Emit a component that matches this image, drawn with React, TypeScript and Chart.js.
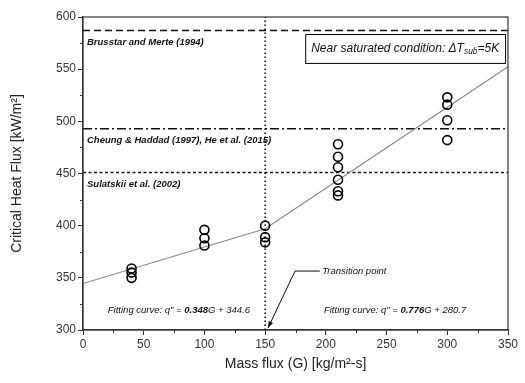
import React, { useEffect, useRef } from 'react';
import { Chart, registerables } from 'chart.js';
Chart.register(...registerables);

// ---- data ----
const massFlux = [40, 40, 40, 100, 100, 100, 150, 150, 150, 210, 210, 210, 210, 210, 210, 300, 300, 300, 300];
const chf = [350, 355, 359, 381, 388, 396, 384, 389, 400, 429, 433, 444, 456, 466, 478, 482, 501, 516, 523];
const fitG = [0, 150, 350];
const fitQ = [344.6, 397, 552.3];
const brusstarCHF = 587;
const cheungCHF = 493;
const sulatskiiCHF = 451;
const transitionG = 150;
const xRange = [0, 350];
const yRange = [300, 600];
const xTicksStep = 50;
const yTicksStep = 50;

const FONT = "'Liberation Sans', Arial, sans-serif";

type Run = { t: string; bold?: boolean; sub?: boolean };

function drawRuns(ctx: CanvasRenderingContext2D, runs: Run[], x: number, y: number, size: number, align: 'left' | 'center', baseBold = false) {
  const fontFor = (r: Run) => `italic ${r.bold || baseBold ? 'bold ' : ''}${r.sub ? size * 0.7 : size}px ${FONT}`;
  let total = 0;
  for (const r of runs) { ctx.font = fontFor(r); total += ctx.measureText(r.t).width; }
  let cx = align === 'center' ? x - total / 2 : x;
  ctx.textBaseline = 'middle';
  ctx.textAlign = 'left';
  for (const r of runs) {
    ctx.font = fontFor(r);
    ctx.fillText(r.t, cx, r.sub ? y + size * 0.3 : y);
    cx += ctx.measureText(r.t).width;
  }
}

const annotPlugin = {
  id: 'annot',
  afterDatasetsDraw(chart: any) {
    const { ctx, chartArea: a, scales } = chart;
    const xs = scales.x, ys = scales.y;
    const px = (v: number) => xs.getPixelForValue(v);
    const py = (v: number) => ys.getPixelForValue(v);
    ctx.save();
    ctx.fillStyle = '#111';
    drawRuns(ctx, [{ t: 'Brusstar and Merte (1994)' }], px(3.3), py(576), 9.5, 'left', true);
    drawRuns(ctx, [{ t: 'Cheung & Haddad (1997), He et al. (2015)' }], px(3.3), py(482), 9.5, 'left', true);
    drawRuns(ctx, [{ t: 'Sulatskii et al. (2002)' }], px(3.3), py(440), 9.5, 'left', true);
    drawRuns(ctx, [{ t: 'Fitting curve: q" = ' }, { t: '0.348', bold: true }, { t: 'G + 344.6' }], px(79), py(319), 9.5, 'center');
    drawRuns(ctx, [{ t: 'Fitting curve: q" = ' }, { t: '0.776', bold: true }, { t: 'G + 280.7' }], px(257), py(319), 9.5, 'center');
    drawRuns(ctx, [{ t: 'Transition point' }], px(197), py(356), 9.5, 'left');

    // arrow
    const p1 = [px(195), py(356.5)], p2 = [px(174.6), py(356.5)], p3 = [px(152.4), py(302)];
    ctx.strokeStyle = '#111';
    ctx.lineWidth = 1;
    ctx.beginPath();
    ctx.moveTo(p1[0], p1[1]); ctx.lineTo(p2[0], p2[1]); ctx.lineTo(p3[0], p3[1]);
    ctx.stroke();
    const ang = Math.atan2(p3[1] - p2[1], p3[0] - p2[0]);
    const L = 7, W = 0.35;
    ctx.beginPath();
    ctx.moveTo(p3[0], p3[1]);
    ctx.lineTo(p3[0] - L * Math.cos(ang - W), p3[1] - L * Math.sin(ang - W));
    ctx.lineTo(p3[0] - L * Math.cos(ang + W), p3[1] - L * Math.sin(ang + W));
    ctx.closePath();
    ctx.fillStyle = '#111';
    ctx.fill();

    // box
    const bx0 = px(183), bx1 = px(347.6), by0 = py(583.7), by1 = py(556);
    ctx.fillStyle = '#fff';
    ctx.fillRect(bx0, by0, bx1 - bx0, by1 - by0);
    ctx.strokeStyle = '#000';
    ctx.lineWidth = 1;
    ctx.strokeRect(bx0 + 0.5, by0 + 0.5, bx1 - bx0, by1 - by0);
    ctx.fillStyle = '#111';
    drawRuns(ctx, [{ t: 'Near saturated condition: \u0394T' }, { t: 'sub', sub: true }, { t: '=5K' }], (bx0 + bx1) / 2, (by0 + by1) / 2, 12, 'center');

    // frame
    ctx.strokeStyle = '#333';
    ctx.lineWidth = 1.2;
    ctx.strokeRect(a.left, a.top, a.right - a.left, a.bottom - a.top);

    // minor ticks
    ctx.strokeStyle = '#333';
    ctx.lineWidth = 1;
    ctx.beginPath();
    for (let v = xRange[0] + xTicksStep / 2; v < xRange[1]; v += xTicksStep) {
      const x = Math.round(px(v)) + 0.5;
      ctx.moveTo(x, a.bottom); ctx.lineTo(x, a.bottom + 3);
    }
    for (let v = yRange[0] + yTicksStep / 2; v < yRange[1]; v += yTicksStep) {
      const y = Math.round(py(v)) + 0.5;
      ctx.moveTo(a.left, y); ctx.lineTo(a.left - 3, y);
    }
    ctx.stroke();
    ctx.restore();
  },
};

export default function App() {
  const ref = useRef<HTMLCanvasElement>(null);
  useEffect(() => {
    if (!ref.current) return;
    const hline = (v: number, dash: number[], w: number) => ({
      type: 'line' as const,
      data: [{ x: xRange[0], y: v }, { x: xRange[1], y: v }],
      borderColor: '#111',
      borderWidth: w,
      borderDash: dash,
      pointRadius: 0,
      fill: false,
    });
    const chart = new Chart(ref.current, {
      type: 'scatter',
      data: {
        datasets: [
          {
            type: 'scatter',
            data: massFlux.map((g, i) => ({ x: g, y: chf[i] })),
            pointStyle: 'circle',
            pointRadius: 4.5,
            borderColor: '#000',
            backgroundColor: 'rgba(0,0,0,0)',
            borderWidth: 1.6,
          } as any,
          {
            type: 'line',
            data: fitG.map((g, i) => ({ x: g, y: fitQ[i] })),
            borderColor: '#8a8a8a',
            borderWidth: 1.1,
            pointRadius: 0,
            fill: false,
          },
          hline(brusstarCHF, [7, 4], 1.5),
          hline(cheungCHF, [9, 3, 2, 3], 1.5),
          hline(sulatskiiCHF, [3, 2.5], 1.5),
          {
            type: 'line',
            data: [{ x: transitionG, y: yRange[0] }, { x: transitionG, y: yRange[1] }],
            borderColor: '#111',
            borderWidth: 1.6,
            borderDash: [1.5, 2.5],
            pointRadius: 0,
            fill: false,
          },
        ],
      },
      options: {
        animation: false,
        responsive: false,
        devicePixelRatio: 1,
        layout: { padding: { top: 17, right: 17, left: 0, bottom: 0 } },
        plugins: { legend: { display: false }, tooltip: { enabled: false } },
        scales: {
          x: {
            type: 'linear',
            min: xRange[0],
            max: xRange[1],
            ticks: { stepSize: xTicksStep, color: '#333', font: { family: FONT, size: 12 }, padding: 2, maxRotation: 0 },
            grid: { drawOnChartArea: false, drawTicks: true, tickLength: 5, color: '#333' },
            border: { color: '#333', width: 1.2 },
            title: { display: true, text: 'Mass flux (G) [kg/m\u00b2-s]', color: '#222', font: { family: FONT, size: 14 }, padding: { top: 0, bottom: 10 } },
            afterFit: (s: any) => { s.height = 53; },
          },
          y: {
            type: 'linear',
            min: yRange[0],
            max: yRange[1],
            ticks: { stepSize: yTicksStep, color: '#333', font: { family: FONT, size: 12 }, padding: 2 },
            grid: { drawOnChartArea: false, drawTicks: true, tickLength: 5, color: '#333' },
            border: { color: '#333', width: 1.2 },
            title: { display: true, text: 'Critical Heat Flux [kW/m\u00b2]', color: '#222', font: { family: FONT, size: 14 }, padding: { top: 9, bottom: 0 } },
            afterFit: (s: any) => { s.width = 83; },
          },
        },
      },
      plugins: [annotPlugin],
    });
    return () => chart.destroy();
  }, []);
  return (
    <div style={{ position: 'fixed', left: 0, top: 0, width: 525, height: 383, background: '#fff' }}>
      <canvas ref={ref} width={525} height={383} />
    </div>
  );
}
